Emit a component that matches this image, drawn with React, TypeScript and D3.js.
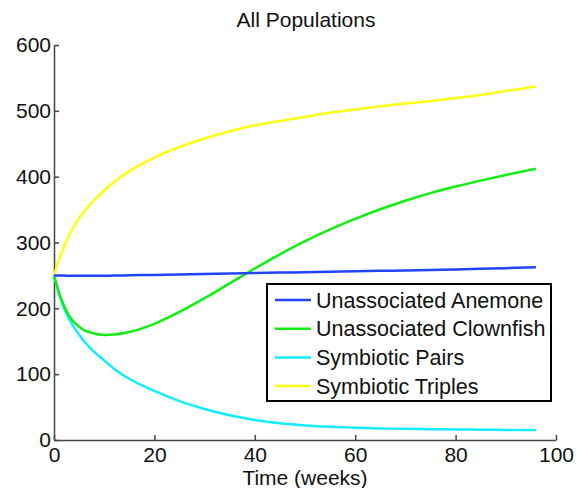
import React, { useRef, useEffect } from "react";
import * as d3 from "d3";

const weeks = [0, 1, 2, 3, 4, 5, 6, 8, 10, 12, 15, 20, 25, 30, 35, 40, 45, 50, 55, 60, 65, 70, 75, 80, 85, 90, 96];
const anemone = [250, 249.8, 249.7, 249.6, 249.5, 249.5, 249.5, 249.5, 249.6, 249.8, 250.2, 250.8, 251.5, 252.2, 253, 253.7, 254.3, 254.9, 255.5, 256.2, 256.9, 257.6, 258.3, 259, 260, 261, 262.5];
const clownfish = [250, 224, 204, 189, 179, 172, 167, 161.8, 159.6, 160.2, 164, 176.5, 194.5, 215.5, 238, 260.5, 282, 302, 320, 336, 350.5, 363.5, 375, 385, 394, 402.5, 412];
const pairs = [250, 222, 200, 184, 171, 160, 150, 134, 121, 108, 93, 74.5, 59, 47, 37.5, 30.5, 25.5, 22.2, 20, 18.5, 17.6, 17, 16.5, 16, 15.6, 15.3, 15];
const triples = [250, 274, 294, 311, 325, 337, 347, 364, 379, 392, 408, 429, 445, 458, 469, 478, 484.5, 491, 497, 502, 507, 511, 515, 519.5, 524, 530, 537];

const seriesNames = ["Unassociated Anemone", "Unassociated Clownfish", "Symbiotic Pairs", "Symbiotic Triples"];
const seriesColors = ["#2244ff", "#11ee11", "#11eeff", "#ffff11"];
const xTicks = [0, 20, 40, 60, 80, 100];
const yTicks = [0, 100, 200, 300, 400, 500, 600];

const App: React.FC = () => {
  const chartRef = useRef<SVGSVGElement>(null);

  useEffect(() => {
    if (!chartRef.current) return;
    const svg = d3.select(chartRef.current);
    svg.selectAll("*").remove();

    const font = "'Liberation Sans', Arial, Helvetica, sans-serif";
    const x = d3.scaleLinear().domain([0, 100]).range([54, 556]);
    const y = d3.scaleLinear().domain([0, 600]).range([440, 45]);

    // axes, ticks pointing inward like matlab
    const xAxis = svg
      .append("g")
      .attr("transform", `translate(0,${y(0)})`)
      .call(
        d3.axisBottom(x).tickValues(xTicks).tickSizeInner(-5).tickSizeOuter(0).tickPadding(7).tickFormat(d3.format("d"))
      );
    const yAxis = svg
      .append("g")
      .attr("transform", `translate(${x(0)},0)`)
      .call(
        d3.axisLeft(y).tickValues(yTicks).tickSizeInner(-5).tickSizeOuter(0).tickPadding(3).tickFormat(d3.format("d"))
      );
    [xAxis, yAxis].forEach((ax) => {
      ax.select(".domain").attr("stroke", "#444").attr("stroke-width", 1.5);
      ax.selectAll(".tick line").attr("stroke", "#444").attr("stroke-width", 1.5);
      ax.selectAll(".tick text")
        .attr("fill", "#111")
        .style("font-family", font)
        .style("font-size", "21px");
    });

    const line = d3
      .line<number>()
      .x((_, i) => x(weeks[i]))
      .y((d) => y(d))
      .curve(d3.curveMonotoneX);

    const allSeries = [anemone, clownfish, pairs, triples];
    // draw in reverse so blue sits on top
    [3, 2, 1, 0].forEach((k) => {
      svg
        .append("path")
        .datum(allSeries[k])
        .attr("fill", "none")
        .attr("stroke", seriesColors[k])
        .attr("stroke-width", 2.5)
        .attr("d", line);
    });

    // title and axis label
    svg
      .append("text")
      .attr("x", 306)
      .attr("y", 27)
      .attr("text-anchor", "middle")
      .style("font-family", font)
      .style("font-size", "21px")
      .attr("fill", "#111")
      .text("All Populations");
    svg
      .append("text")
      .attr("x", 305)
      .attr("y", 485)
      .attr("text-anchor", "middle")
      .style("font-family", font)
      .style("font-size", "21px")
      .attr("fill", "#111")
      .text("Time (weeks)");

    // legend
    const legend = svg.append("g");
    legend
      .append("rect")
      .attr("x", 267)
      .attr("y", 284)
      .attr("width", 284)
      .attr("height", 117)
      .attr("fill", "white")
      .attr("stroke", "black")
      .attr("stroke-width", 2);
    seriesNames.forEach((name, i) => {
      const cy = 300 + i * 28.7;
      legend
        .append("line")
        .attr("x1", 275)
        .attr("x2", 311)
        .attr("y1", cy)
        .attr("y2", cy)
        .attr("stroke", seriesColors[i])
        .attr("stroke-width", 2.5);
      legend
        .append("text")
        .attr("x", 316)
        .attr("y", cy)
        .attr("dy", "0.36em")
        .style("font-family", font)
        .style("font-size", "21.5px")
        .attr("fill", "#111")
        .text(name);
    });
  }, []);

  return (
    <svg
      ref={chartRef}
      width={577}
      height={488}
      style={{ position: "absolute", left: 0, top: 0, background: "white" }}
    ></svg>
  );
};

export default App;
